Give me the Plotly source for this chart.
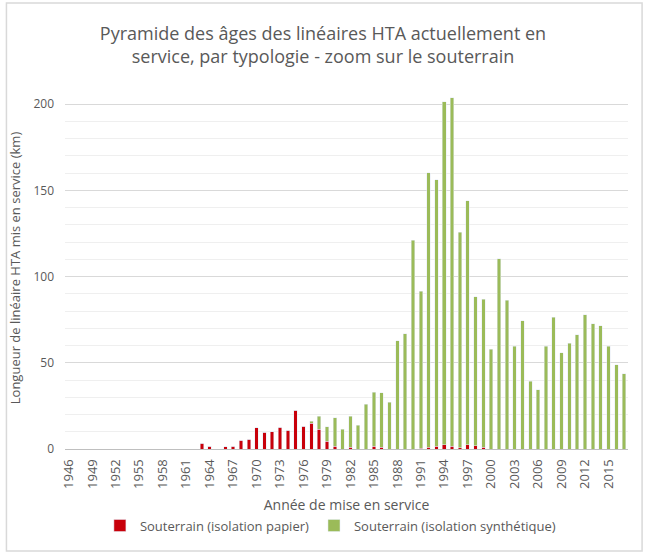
import plotly.graph_objects as go

years = list(range(1946, 2018))
tick_years = list(range(1946, 2016, 3))
tick_labels = [str(y) for y in tick_years]

papier = [0] * 17 + [
    3.3, 1.7, 0, 1.2, 1.7, 5.2, 5.6, 12.4, 9.7, 9.9, 12.6, 10.8, 22.4, 13.3,
    14.9, 11.6, 4.4, 1.7, 0, 1.0, 0, 0, 1.5, 1.0, 0, 0, 0, 0, 0.5, 1.0, 1.5,
    2.5, 1.5, 0.7, 2.5, 2.0, 1.0] + [0] * 18

synthetique = [0] * 31 + [
    1.3, 7.3, 8.5, 16.3, 11.4, 17.9, 13.7, 25.9, 31.5, 31.7, 27.0, 62.8, 67.0,
    121.0, 90.9, 159.4, 154.8, 198.9, 202.2, 124.9, 141.5, 86.3, 86.0, 57.8,
    110.3, 86.2, 59.7, 74.4, 39.4, 34.4, 59.7, 76.5, 55.8, 61.4, 66.4, 78.0,
    72.8, 71.5, 59.7, 49.0, 43.7]

RED = "#c8000a"
GREEN = "#9bbb59"
GRAY = "#595959"
FONT = "Open Sans"

fig = go.Figure()
fig.add_trace(go.Bar(x=years, y=papier, name="Souterrain (isolation papier)",
                     marker_color=RED))
fig.add_trace(go.Bar(x=years, y=synthetique, name="Souterrain (isolation synthétique)",
                     marker_color=GREEN))

fig.update_layout(
    width=646, height=552,
    barmode="stack", bargap=0.55,
    paper_bgcolor="white", plot_bgcolor="white",
    margin=dict(l=65, r=18, t=87, b=103),
    font=dict(family=FONT, color=GRAY, size=12),
    title=dict(
        text="Pyramide des âges des linéaires HTA actuellement en<br>service, par typologie - zoom sur le souterrain",
        x=0.5, xanchor="center", y=0.928, yanchor="top",
        font=dict(family=FONT, size=18, color=GRAY)),
    legend=dict(orientation="h", x=0.062, xanchor="left", y=-0.17, yanchor="top",
                font=dict(family=FONT, size=13, color=GRAY),
                itemwidth=30, traceorder="normal"),
    showlegend=True,
)
fig.update_xaxes(
    range=[1945.5, 2017.5], tickmode="array", tickvals=tick_years, ticktext=tick_labels,
    tickangle=-90, showgrid=False, showline=True, linecolor="#bfbfbf", linewidth=1,
    ticks="", ticklabelstandoff=4, tickfont=dict(size=13, color=GRAY),
    title=dict(text="Année de mise en service", font=dict(size=14, color=GRAY), standoff=12),
)
fig.update_yaxes(
    range=[0, 210], tickvals=[0, 50, 100, 150, 200], showgrid=True, gridcolor="#d9d9d9",
    gridwidth=1, zeroline=False, showline=False, ticks="", ticklen=0,
    minor=dict(dtick=10, showgrid=True, gridcolor="#efefef", gridwidth=1),
    tickfont=dict(size=12, color=GRAY), ticklabelstandoff=10,
    title=dict(text="Longueur de linéaire HTA mis en service (km)",
               font=dict(size=13, color=GRAY), standoff=9),
)
fig.add_shape(type="rect", xref="paper", yref="paper", x0=-0.104, x1=1.025, y0=-0.282, y1=1.232,
              line=dict(color="#d9d9d9", width=1.5), fillcolor="rgba(0,0,0,0)", layer="below")

fig.write_html("out.html", config={"displayModeBar": False},
               post_script="document.body.style.margin='0';document.body.style.overflow='hidden';")
